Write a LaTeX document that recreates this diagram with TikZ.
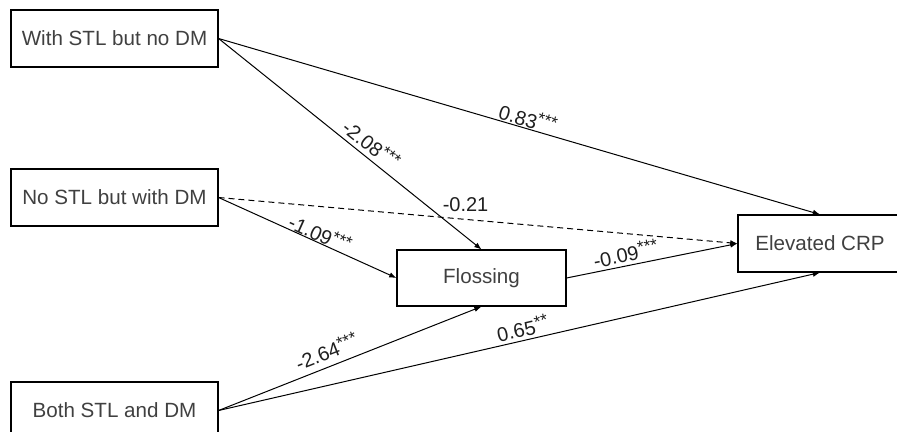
\documentclass[tikz,border=0pt]{standalone}
\usepackage{fontspec}
\setmainfont{Liberation Sans}
\usetikzlibrary{arrows.meta}
\definecolor{boxtext}{rgb}{0.25,0.25,0.25}
\definecolor{labtext}{rgb}{0.12,0.12,0.12}
\newcommand{\sigstar}[1]{\raisebox{0.28em}{\fontsize{8.6}{10}\selectfont #1}}

\begin{document}
\begin{tikzpicture}[x=0.5pt, y=-0.5pt]
	\tikzstyle{every node}=[font=\fontsize{10.3}{12}\selectfont];
	\tikzstyle{var}=[draw, line width=0.55pt, text=boxtext, minimum width=103.5pt, minimum height=28.5pt, inner sep=0pt];
	\tikzstyle{arr}=[-{Latex[length=3.6pt,width=2.8pt]}, line width=0.5pt];
	\tikzstyle{lab}=[sloped, above, text=labtext, font=\fontsize{10}{12}\selectfont];
	\useasboundingbox (0,0) rectangle (897,432);

	\node[var] (stlnodm) at (114.5,38.5) {With STL but no DM};
	\node[var] (nostldm) at (114.5,197.5) {No STL but with DM};
	\node[var] (both) at (114.5,410.5) {Both STL and DM};
	\node[var, minimum width=84.5pt, minimum height=28pt] (floss) at (481.5,278) {Flossing};
	\node[var, minimum width=82pt] (crp) at (820,243.5) {Elevated CRP};

	\draw[arr] (stlnodm.east) -- node[lab, pos=0.51, inner sep=0.5pt] {0.83\sigstar{***}} (crp.north);
	\draw[arr] (stlnodm.east) -- node[lab, pos=0.55, inner sep=2pt] {-2.08\sigstar{***}} (floss.north);
	\draw[arr, dash pattern=on 3pt off 2pt] (nostldm.east) -- node[above, text=labtext, font=\fontsize{10}{12}\selectfont, pos=0.476, inner sep=3.5pt] {-0.21} (crp.west);
	\draw[arr] (nostldm.east) -- node[lab, pos=0.55, inner sep=0pt] {-1.09\sigstar{***}} (floss.west);
	\draw[arr] (both.east) -- node[lab, pos=0.432, inner sep=3pt] {-2.64\sigstar{***}} (floss.south);
	\draw[arr] (both.east) -- node[lab, pos=0.51, inner sep=1.5pt] {0.65\sigstar{**}} (crp.south);
	\draw[arr] (floss.east) -- node[lab, pos=0.36, inner sep=1.5pt] {-0.09\sigstar{***}} (crp.west);
\end{tikzpicture}
\end{document}
